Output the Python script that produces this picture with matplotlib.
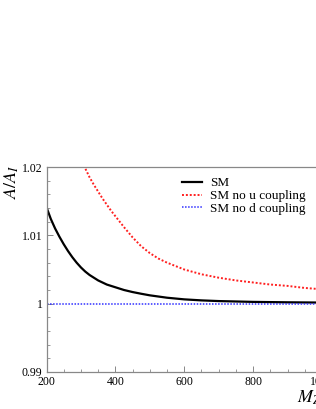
import matplotlib
matplotlib.use("Agg")
import matplotlib.pyplot as plt
from matplotlib.ticker import MultipleLocator, FixedLocator, FixedFormatter

plt.rcParams['font.family'] = ['Liberation Serif', 'DejaVu Serif']
plt.rcParams['mathtext.fontset'] = 'stix'

# Data
m_sm = [200, 212.5, 225, 237.5, 250, 262.5, 275, 287.5, 300, 312.5, 325, 337.5, 350,
        362.5, 375, 387.5, 400, 425, 450, 475, 500, 550, 600, 650, 700, 800, 900, 1000]
ratio_sm = [1.0141, 1.0124, 1.0110, 1.0098, 1.0087, 1.0077, 1.0068, 1.0060, 1.0053,
            1.0047, 1.0042, 1.0038, 1.0034, 1.0031, 1.0028, 1.0026, 1.0024, 1.0020,
            1.0017, 1.00145, 1.00122, 1.00087, 1.00063, 1.00048, 1.00038, 1.00026,
            1.0002, 1.00016]

m_nou = [300, 312.5, 325, 337.5, 350, 362.5, 375, 387.5, 400, 425, 450, 475, 500, 525,
         550, 575, 600, 650, 700, 750, 800, 850, 900, 950, 1000]
ratio_nou = [1.0213, 1.0198, 1.0185, 1.0174, 1.0164, 1.0154, 1.0145, 1.0136, 1.0128,
             1.0112, 1.0097, 1.0084, 1.0074, 1.0066, 1.0060, 1.0055, 1.0050, 1.0043,
             1.0038, 1.0034, 1.0031, 1.0028, 1.0026, 1.0023, 1.0021]

m_nod = [200, 400, 600, 800, 1000]
ratio_nod = [1.0, 1.0, 1.0, 1.0, 1.0]

yticks = [0.99, 1.0, 1.01, 1.02]
ytick_labels = ["0.99", "1", "1.01", "1.02"]
xticks = [200, 400, 600, 800, 1000]
xtick_labels = ["200", "400", "600", "800", "1000"]
series_labels = ["SM", "SM no u coupling", "SM no d coupling"]

W, H = 316, 409
fig = plt.figure(figsize=(W / 100, H / 100), dpi=100)
left, right, bottom, top = 46.5, 322, 372, 167
ax = fig.add_axes([left / W, 1 - bottom / H, (right - left) / W, (bottom - top) / H])

ax.plot(m_sm, ratio_sm, color='black', lw=1.6, label=series_labels[0])
ax.plot(m_nou, ratio_nou, color='#ff2020', lw=1.4, ls=(0, (1, 1)), label=series_labels[1])
ax.plot(m_nod, ratio_nod, color='#3030ff', lw=1.1, ls=(0, (1, 1)), label=series_labels[2])

ax.set_xlim(200, 1000)
ax.set_ylim(0.99, 1.02)
ax.xaxis.set_major_locator(FixedLocator(xticks))
ax.xaxis.set_major_formatter(FixedFormatter(xtick_labels))
ax.xaxis.set_minor_locator(MultipleLocator(50))
ax.yaxis.set_major_locator(FixedLocator(yticks))
ax.yaxis.set_major_formatter(FixedFormatter(ytick_labels))
ax.yaxis.set_minor_locator(MultipleLocator(0.002))

ax.tick_params(which='both', direction='in', color='#888888', labelsize=8.5,
               top=False, right=False, pad=3)
ax.tick_params(which='major', length=4.5, width=0.7)
ax.tick_params(which='minor', length=2.5, width=0.6)
for s in ax.spines.values():
    s.set_color('#888888')
    s.set_linewidth(0.9)

fig.text(12 / W, 1 - 182 / H, r'$A/A_I$', rotation=90, ha='center', va='center', fontsize=13)
fig.text(297 / W, 1 - 398 / H, r'$M_Z$', ha='left', va='center', fontsize=13)

leg = ax.legend(loc='upper left', bbox_to_anchor=(182 / W, 1 - 177 / H),
                bbox_transform=fig.transFigure, frameon=False, fontsize=9.5,
                handlelength=1.5, handletextpad=0.6, labelspacing=0.05, borderpad=0,
                borderaxespad=0)

fig.savefig("out.png", dpi=100)
